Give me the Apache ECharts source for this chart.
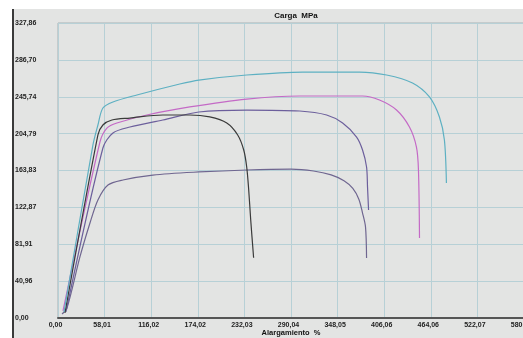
<!DOCTYPE html>
<html>
<head>
<meta charset="utf-8">
<script src="https://cdn.jsdelivr.net/npm/echarts@6/dist/echarts.min.js"></script>
<style>
html,body{margin:0;padding:0;background:#fff;}
#c{width:523px;height:338px;}
</style>
</head>
<body>
<div id="c"></div>
<script>
// Axis tick labels (as printed)
const xTickLabels = ['0,00','58,01','116,02','174,02','232,03','290,04','348,05','406,06','464,06','522,07','580,08'];
const yTickLabels = ['0,00','40,96','81,91','122,87','163,83','204,79','245,74','286,70','327,86'];
const xStep = 58.008, xMax = 580.08;
const yStep = 40.9575, yMax = 327.66;

// Curves: [elongation %, load MPa]
const curveCyan = [[7.5,6.7],[43.5,192.2],[49.7,214.4],[55.9,233.2],[68.4,239.9],[98.2,247.7],[151.6,259.9],[175.3,264.3],[234.9,269.9],[304.5,273.2],[375.4,273.2],[409.0,269.9],[441.3,261.0],[462.4,245.5],[474.8,223.3],[481.0,197.7],[483.5,149.9]];
const curveBlack = [[8.7,5.6],[49.7,203.3],[55.9,214.4],[67.1,219.9],[89.5,222.1],[130.5,225.5],[164.1,225.5],[188.9,223.3],[210.1,216.6],[223.7,203.3],[231.2,186.6],[234.9,167.7],[237.4,142.2],[239.9,108.8],[243.5,67.0]];
const curveMagenta = [[6.2,7.8],[52.2,195.5],[60.9,211.0],[73.3,216.6],[110.6,225.5],[164.1,234.4],[234.9,243.2],[300.8,246.6],[379.1,246.6],[400.2,242.1],[421.4,231.0],[437.5,212.1],[446.2,189.9],[448.7,164.4],[450.0,88.9]];
const curvePurple = [[9.9,6.7],[55.9,188.8],[68.4,205.5],[89.5,212.1],[130.5,219.9],[175.3,228.8],[234.9,231.0],[300.8,229.9],[334.4,225.5],[354.3,216.6],[371.7,201.0],[379.1,186.6],[384.1,167.7],[385.3,145.5],[386.6,120.0]];
const curveLow = [[5.0,4.4],[11.2,11.1],[27.3,67.8],[39.8,105.5],[49.7,131.1],[62.2,147.7],[80.8,153.3],[118.1,158.8],[175.3,162.2],[234.9,164.4],[290.0,165.3],[318.0,163.3],[340.0,159.0],[356.0,152.5],[367.0,144.0],[374.5,132.0],[379.1,116.6],[382.8,101.1],[384.1,66.6]];

const chart = echarts.init(document.getElementById('c'), null, {renderer:'canvas'});
const lbl = {fontFamily:'Liberation Sans, Arial, sans-serif', fontWeight:'bold', fontSize:7, color:'#222'};
function mkSeries(data, color){
  return {type:'line', data:data, showSymbol:false, smooth:0.3, lineStyle:{color:color, width:1.2}, silent:true, animation:false};
}
chart.setOption({
  animation:false,
  backgroundColor:'#e3e4e3',
  title:{text:'Carga  MPa', left:291, top:7, textAlign:'center', textStyle:Object.assign({}, lbl, {fontSize:8, color:'#111'})},
  graphic:[
    {type:'rect', shape:{x:0,y:0,width:523,height:9}, style:{fill:'#fff'}, z:-1},
    {type:'rect', shape:{x:0,y:0,width:12,height:338}, style:{fill:'#fff'}, z:-1},
    {type:'line', shape:{x1:13,y1:9,x2:13,y2:338}, style:{stroke:'#3a3a3a', lineWidth:2}}
  ],
  grid:{left:58, top:23, width:466, bottom:20, outerBoundsMode:'none', containLabel:false, show:true, borderColor:'#a9b3b4', borderWidth:1, backgroundColor:'transparent'},
  xAxis:{
    type:'value', min:0, max:xMax, interval:xStep,
    name:'Alargamiento  %', nameLocation:'middle', nameGap:11, nameMoveOverlap:false,
    nameTextStyle:Object.assign({}, lbl, {fontSize:7.5, color:'#111'}),
    axisLine:{show:true, lineStyle:{color:'#555', width:2}},
    axisTick:{show:false},
    splitLine:{show:true, lineStyle:{color:'#b7d0d6', width:1}},
    axisLabel:Object.assign({}, lbl, {margin:4, padding:[0,5,0,0], formatter:function(v){return xTickLabels[Math.round(v/xStep)] || '';}})
  },
  yAxis:{
    type:'value', min:0, max:yMax, interval:yStep,
    axisLine:{show:false},
    axisTick:{show:false},
    splitLine:{show:true, lineStyle:{color:'#b7d0d6', width:1}},
    axisLabel:Object.assign({}, lbl, {margin:43, align:'left', formatter:function(v){return yTickLabels[Math.round(v/yStep)] || '';}})
  },
  series:[
    mkSeries(curveLow, '#6f6690'),
    mkSeries(curvePurple, '#6c5f9c'),
    mkSeries(curveMagenta, '#c46ac6'),
    mkSeries(curveBlack, '#3a3a3a'),
    mkSeries(curveCyan, '#5db0c2')
  ]
});
</script>
</body>
</html>
